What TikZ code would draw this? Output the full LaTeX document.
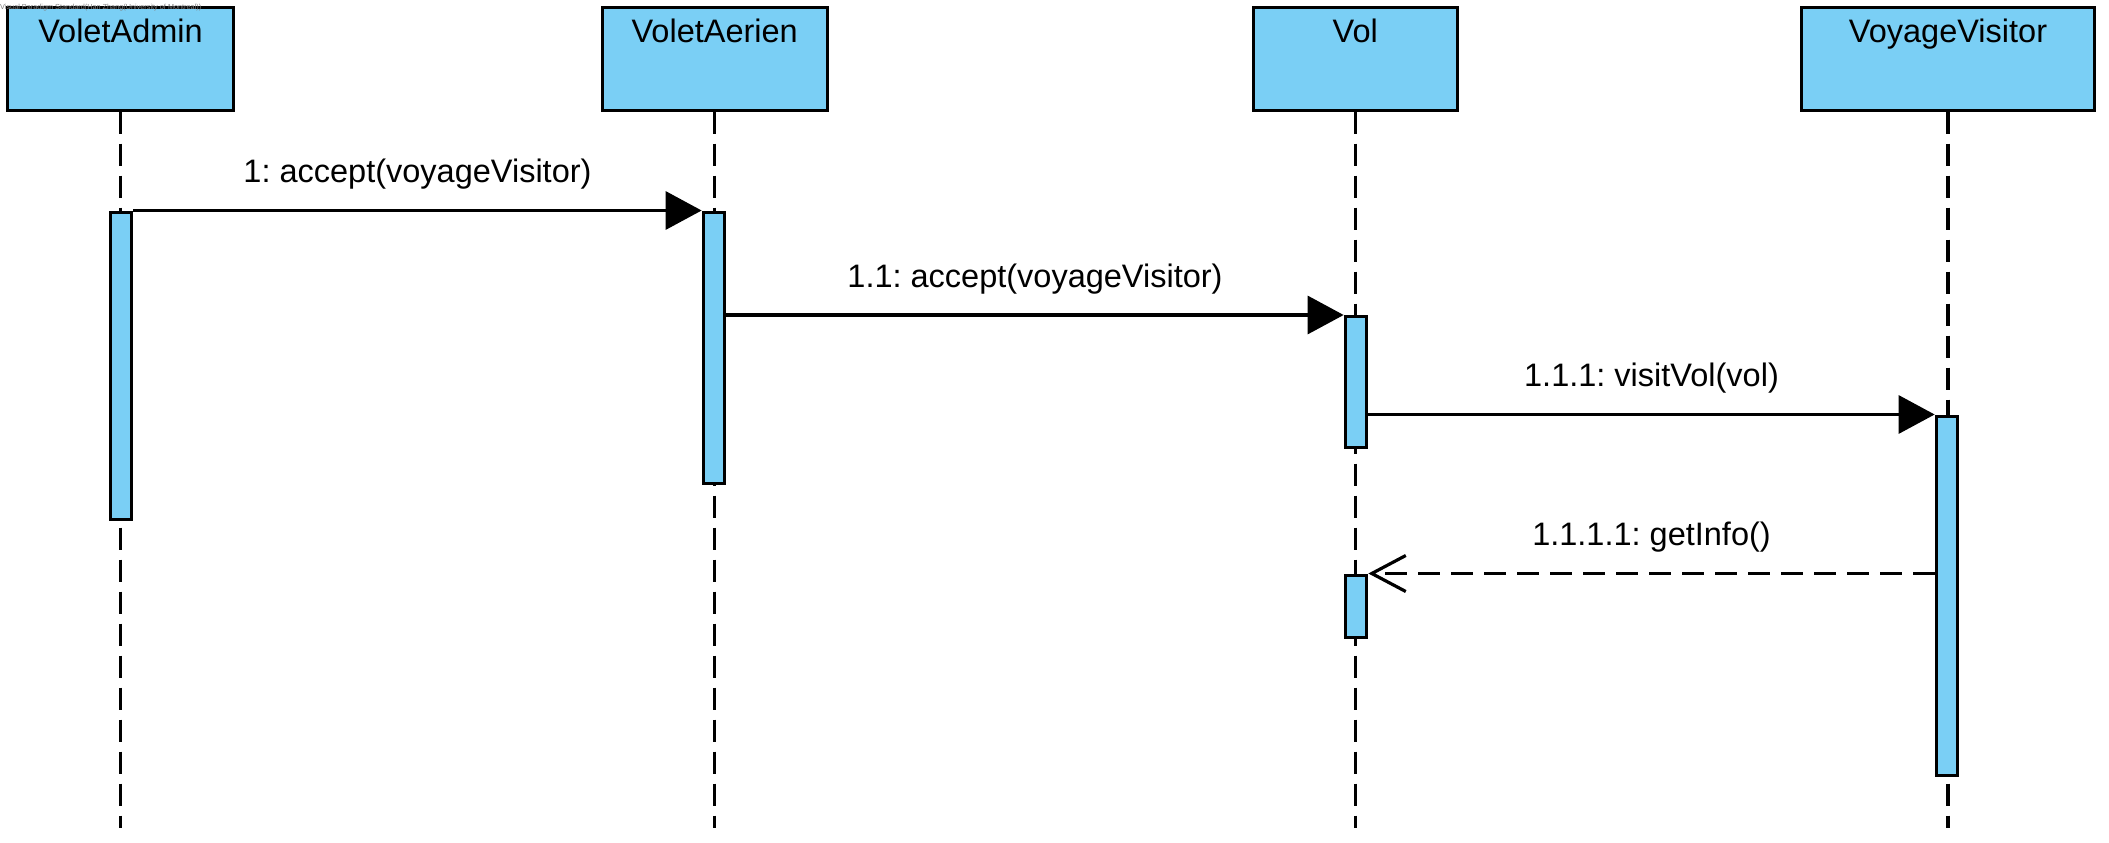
\documentclass[tikz,border=0pt]{standalone}
\usepackage{fontspec}
\setmainfont{Liberation Sans}
\usetikzlibrary{arrows.meta,calc}
\definecolor{lblue}{RGB}{122,207,245}
\frenchspacing
\begin{document}
\begin{tikzpicture}[x=1pt,y=-1pt,
  head/.style={draw, line width=3.2pt, fill=lblue, anchor=north west, inner sep=0pt, minimum height=102.5pt},
  htext/.style={anchor=base, inner sep=0pt, font=\fontsize{32.5}{39}\selectfont},
  bar/.style={draw, line width=3.2pt, fill=lblue, inner sep=0pt, minimum width=21.5pt, anchor=north},
  lifeline/.style={line width=3.2pt, dash pattern=on 22pt off 10pt},
  msg/.style={line width=3.2pt, -{Triangle[length=36pt,width=38pt]}},
  reply/.style={line width=3.2pt, dash pattern=on 22pt off 11pt, -{Straight Barb[length=34pt,width=36pt,line width=3.2pt]}},
  mlabel/.style={anchor=base, inner sep=0pt, font=\fontsize{32.5}{39}\selectfont}]
\useasboundingbox (0,0) rectangle (2109,843);
% heads
\node[head, minimum width=225.8pt] (hA) at (6,6) {};
\node[head, minimum width=224.8pt] (hB) at (600.7,6) {};
\node[head, minimum width=204pt] (hC) at (1251.7,6) {};
\node[head, minimum width=292.8pt] (hD) at (1800,6) {};
\node[htext] (tA) at (hA.north |- 0,43) {VoletAdmin};
\node[htext] (tB) at (hB.north |- 0,43) {VoletAerien};
\node[htext] (tC) at (hC.north |- 0,43) {Vol};
\node[htext] (tD) at (hD.north |- 0,43) {VoyageVisitor};
% watermark
\node[anchor=base west, inner sep=0pt, text=gray, font=\fontsize{7.3}{8}\selectfont] (wm) at (0,9.5) {Visual Paradigm Standard(Han Zhang(University of Montreal))};
% lifelines
\coordinate (eA) at (120.5,828);
\coordinate (eB) at (714.5,828);
\coordinate (eC) at (1354,828);
\coordinate (eD) at (1947.5,828);
\draw[lifeline] (hA.south) -- (hA.south |- eA);
\draw[lifeline] (hB.south) -- (hB.south |- eB);
\draw[lifeline] (hC.south) -- (hC.south |- eC);
\draw[lifeline] (hD.south) -- (hD.south |- eD);
% activation bars
\node[bar, minimum height=307pt] (aA) at (121,210.5) {};
\node[bar, minimum height=271pt] (aB) at (714,210.5) {};
\node[bar, minimum height=131pt] (aC1) at (1356,315) {};
\node[bar, minimum height=62pt] (aC2) at (1356,573.5) {};
\node[bar, minimum height=359pt] (aD) at (1947,414.5) {};
% messages
\draw[msg] (aA.north east) -- (aB.north west);
\node[mlabel] (l1) at ($(aA.north east)!0.5!(aB.north west) + (0,-28)$) {1: accept(voyageVisitor)};
\draw[msg] (aB.east |- aC1.north) -- (aC1.north west);
\node[mlabel] (l2) at ($(aB.east |- aC1.north)!0.5!(aC1.north west) + (0,-28)$) {1.1: accept(voyageVisitor)};
\draw[msg] (aC1.east |- aD.north) -- (aD.north west);
\node[mlabel] (l3) at ($(aC1.east |- aD.north)!0.5!(aD.north west) + (0,-28)$) {1.1.1: visitVol(vol)};
\draw[reply] (aD.west |- aC2.north) -- (aC2.north east);
\node[mlabel] (l4) at ($(aD.west |- aC2.north)!0.5!(aC2.north east) + (0,-28)$) {1.1.1.1: getInfo()};
\end{tikzpicture}
\end{document}
